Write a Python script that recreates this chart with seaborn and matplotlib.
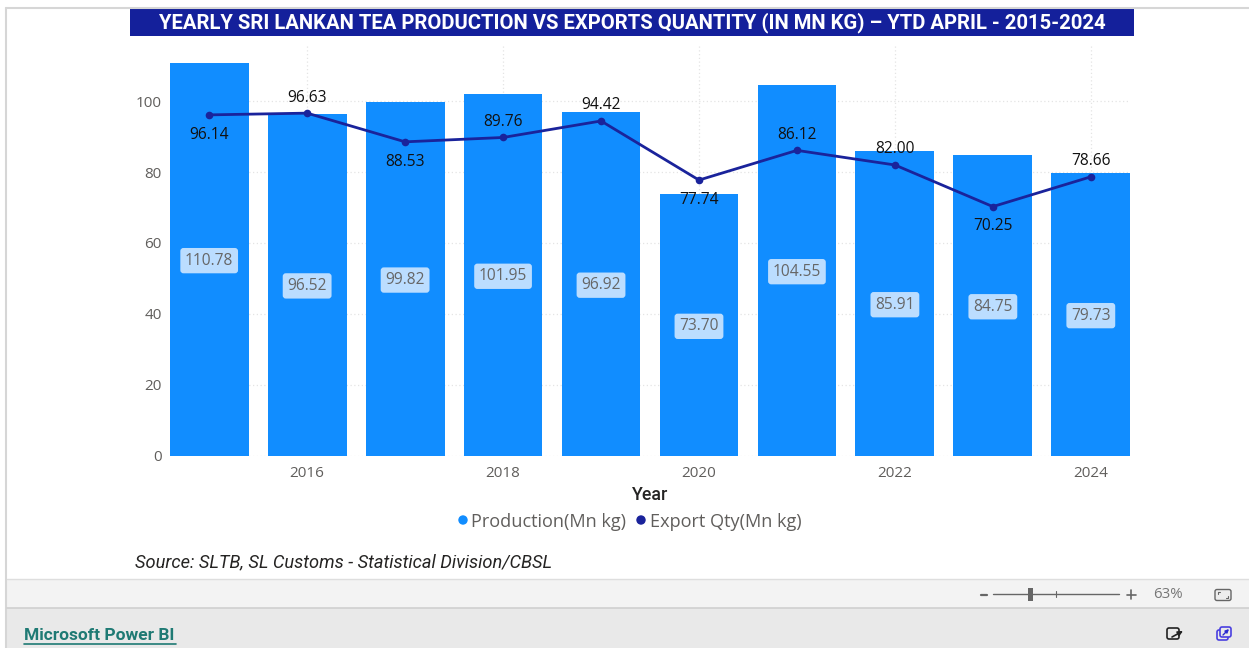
import matplotlib
matplotlib.use('Agg')
import matplotlib.pyplot as plt
from matplotlib.patches import Rectangle, FancyBboxPatch, Circle
from matplotlib import font_manager
import seaborn as sns
import pandas as pd

years = [2015, 2016, 2017, 2018, 2019, 2020, 2021, 2022, 2023, 2024]
production = [110.78, 96.52, 99.82, 101.95, 96.92, 73.70, 104.55, 85.91, 84.75, 79.73]
exports = [96.14, 96.63, 88.53, 89.76, 94.42, 77.74, 86.12, 82.00, 70.25, 78.66]
y_ticks = [0, 20, 40, 60, 80, 100]
x_ticks = [2016, 2018, 2020, 2022, 2024]
# which side of the line each export label sits on
label_above = [False, True, False, True, True, False, True, True, False, True]

title = 'YEARLY SRI LANKAN TEA PRODUCTION VS EXPORTS QUANTITY (IN MN KG) \u2013 YTD APRIL - 2015-2024'
source = 'Source: SLTB, SL Customs - Statistical Division/CBSL'

BAR = '#118DFF'
LINE = '#1A239B'
GREY = '#605E5C'
W, H = 1249, 648

installed = {f.name for f in font_manager.fontManager.ttflist}
narrow = 'Liberation Sans Narrow' if 'Liberation Sans Narrow' in installed else 'Roboto'

sns.set_theme(style='white')
plt.rcParams['font.family'] = ['Open Sans', 'DejaVu Sans']

df = pd.DataFrame({'Year': years, 'Production': production, 'Export': exports})

fig = plt.figure(figsize=(W / 100, H / 100), dpi=100, facecolor='white')

# page furniture drawn in pixel coordinates
bg = fig.add_axes([0, 0, 1, 1])
bg.set_xlim(0, W)
bg.set_ylim(H, 0)
bg.axis('off')
bg.plot([6.5, 6.5], [8, H], color='#D6D6D6', lw=1.5)
bg.plot([6, W], [8, 8], color='#D6D6D6', lw=1.5)
bg.add_patch(Rectangle((7, 579), W, 29, color='#F3F3F3', lw=0))
bg.add_patch(Rectangle((7, 608), W, 40, color='#E9E9E9', lw=0))
bg.plot([7, W], [579, 579], color='#DEDEDE', lw=1)
bg.plot([7, W], [608, 608], color='#CFCFCF', lw=1.2)
bg.add_patch(Rectangle((130, 9), 1004, 27, color='#14209B', lw=0))
bg.text(632, 22.5, title, color='white', fontsize=14.55, fontweight='bold',
        family=narrow, ha='center', va='center')
bg.text(135, 562, source, color='#252423', fontsize=13.13, style='italic',
        family=narrow, va='center')
bg.text(650, 494.5, 'Year', color='#252423', fontsize=12.8, ha='center', va='center',
        family=narrow, fontweight='medium')

# legend
bg.add_patch(Circle((463, 520), 4.7, color=BAR, lw=0))
bg.text(471, 522, 'Production(Mn kg)', color=GREY, fontsize=13.1, va='center')
bg.add_patch(Circle((641, 520), 4.7, color=LINE, lw=0))
bg.text(650, 522, 'Export Qty(Mn kg)', color=GREY, fontsize=13.1, va='center')

# zoom bar
bg.plot([993, 1119], [594, 594], color='#666666', lw=1)
bg.plot([981, 987], [594.5, 594.5], color='#666666', lw=1.6)
bg.add_patch(Rectangle((1028, 588), 5, 13, color='#666666', lw=0))
bg.plot([1056.5, 1056.5], [591, 597], color='#666666', lw=0.8)
bg.plot([1127, 1136], [594.5, 594.5], color='#666666', lw=1.2)
bg.plot([1131.5, 1131.5], [590, 599], color='#666666', lw=1.2)
bg.text(1153, 595, '63%', color='#777777', fontsize=10.8, va='center')
bg.add_patch(FancyBboxPatch((1215, 589.5), 16, 11, boxstyle='round,pad=0,rounding_size=2',
                            fc='#EDEDED', ec='#666666', lw=1))
bg.plot([1218, 1218, 1220], [594, 592, 592], color='#666666', lw=0.8)
bg.plot([1226, 1228, 1228], [598, 598, 596], color='#666666', lw=0.8)
bg.text(24, 635, 'Microsoft Power BI', color='#1F7A74', fontsize=12.5, va='center',
        family=narrow, fontweight='bold')
bg.plot([24, 176], [644, 644], color='#1F7A74', lw=1.2)
# share and open icons
bg.add_patch(FancyBboxPatch((1167, 628), 12, 11, boxstyle='round,pad=0,rounding_size=2',
                            fc='#E9E9E9', ec='#222222', lw=1.2))
bg.annotate('', xy=(1183, 631), xytext=(1172, 637),
            arrowprops=dict(arrowstyle='-|>', color='#222222', lw=1.2, mutation_scale=7,
                            shrinkA=0, shrinkB=0))
bg.add_patch(FancyBboxPatch((1217, 630), 11, 10, boxstyle='round,pad=0,rounding_size=2',
                            fc='none', ec='#4A3FE0', lw=1.2))
bg.add_patch(FancyBboxPatch((1220, 627), 11, 10, boxstyle='round,pad=0,rounding_size=2',
                            fc='#E9E9E9', ec='#4A3FE0', lw=1.2))
bg.annotate('', xy=(1229, 629), xytext=(1223, 635),
            arrowprops=dict(arrowstyle='-|>', color='#2A2AD0', lw=1, mutation_scale=5,
                            shrinkA=0, shrinkB=0))

# chart area: x from 170 to 1130 px, y from 44 to 455.5 px
ax = fig.add_axes([170 / W, 1 - 455.5 / H, 960 / W, (455.5 - 44) / H])
ax.patch.set_alpha(0)
sns.barplot(data=df, x='Year', y='Production', color=BAR, saturation=1, width=0.805,
            native_scale=True, linewidth=0, ax=ax, zorder=2)
sns.lineplot(data=df, x='Year', y='Export', color=LINE, lw=2, marker='o', markersize=5.5,
             markeredgewidth=0, ax=ax, zorder=3)

ax.set_xlim(2014.6, 2024.4)
ax.set_ylim(0, (455.5 - 44) / 3.543)
ax.set_yticks(y_ticks)
ax.set_xticks(x_ticks)
ax.set_xticklabels([str(x) for x in x_ticks])
ax.set_xlabel('')
ax.set_ylabel('')
ax.tick_params(axis='both', length=0, labelsize=11, labelcolor=GREY)
ax.tick_params(axis='x', pad=7.5)
ax.tick_params(axis='y', pad=6)
ax.grid(True, color='#E4E4E4', lw=0.9, ls=(0, (1, 2)))
ax.set_axisbelow(True)
sns.despine(ax=ax, left=True, bottom=True)

for x, p in zip(years, production):
    ax.annotate(f'{p:.2f}', (x, p / 2), xytext=(0, -1), textcoords='offset points',
                color='#666666', fontsize=11.2, ha='center', va='center', zorder=4,
                bbox=dict(boxstyle='round,pad=0.3,rounding_size=0.2', fc='#BBDDFF', ec='none'))

for x, e, above in zip(years, exports, label_above):
    ax.annotate(f'{e:.2f}', (x, e), xytext=(0, 5.5 if above else -8.5), textcoords='offset points',
                color='#111111', fontsize=11.2, ha='center', va='bottom' if above else 'top', zorder=4)

fig.savefig('out.png', dpi=100)
plt.close(fig)
